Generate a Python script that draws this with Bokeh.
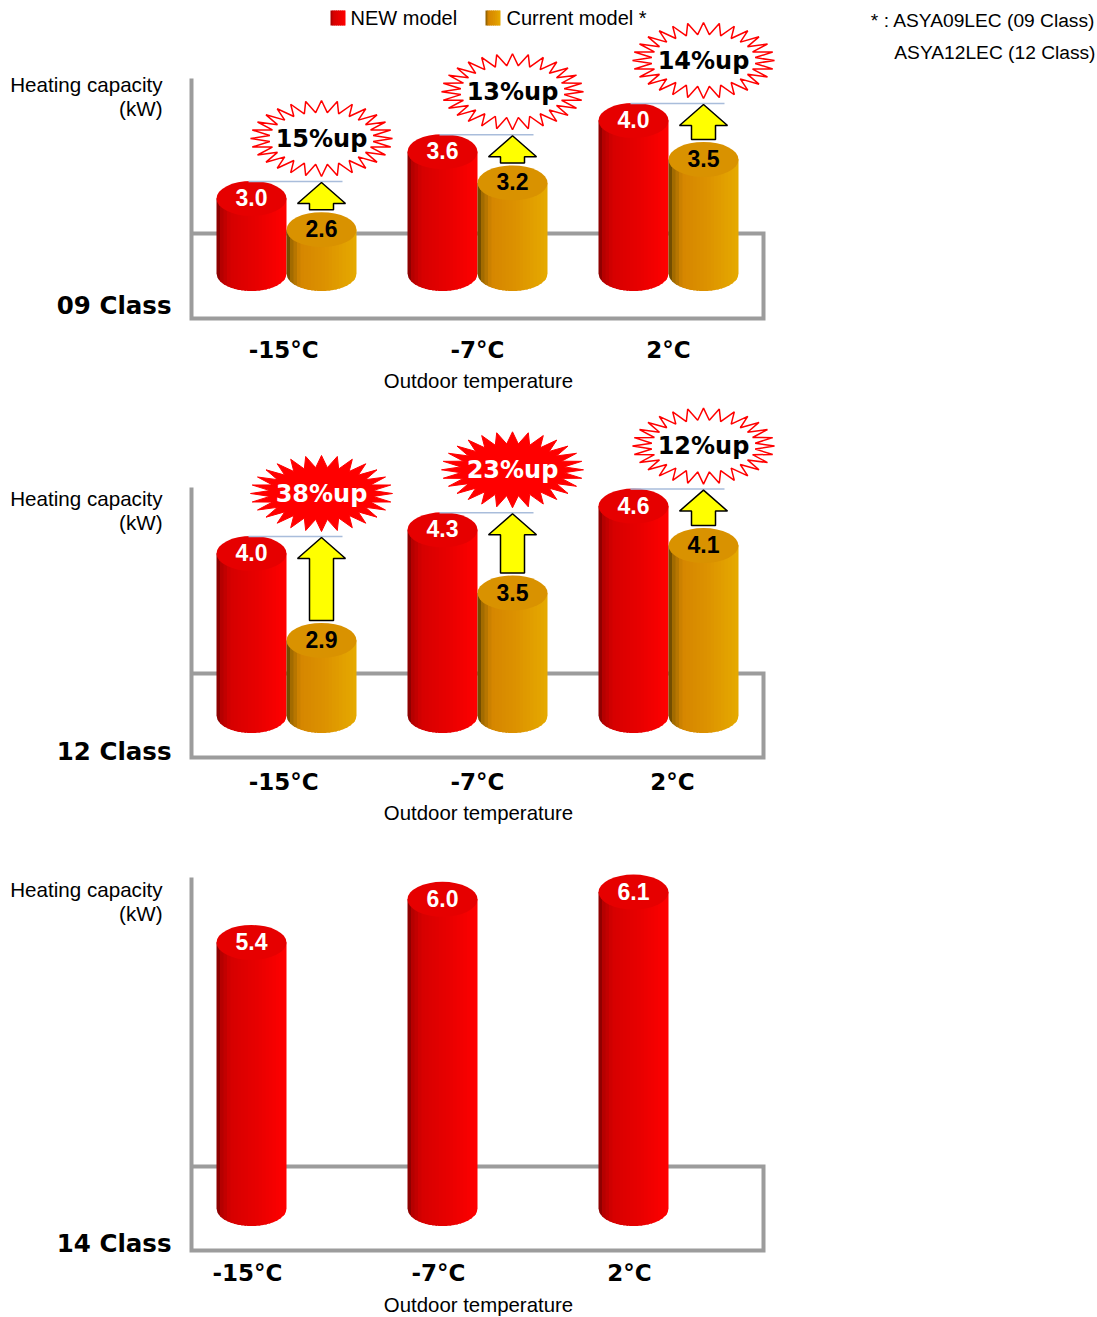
import numpy as np
from bokeh.plotting import figure
from bokeh.layouts import column
from bokeh.models import Range1d
from bokeh.core.properties import value
from bokeh.embed import file_html
from bokeh.resources import INLINE

# ---------------- data ----------------
temps = ["-15°C", "-7°C", "2°C"]
new_09 = [3.0, 3.6, 4.0]
cur_09 = [2.6, 3.2, 3.5]
up_09 = ["15%up", "13%up", "14%up"]
new_12 = [4.0, 4.3, 4.6]
cur_12 = [2.9, 3.5, 4.1]
up_12 = ["38%up", "23%up", "12%up"]
burst_filled_12 = [True, True, False]
new_14 = [5.4, 6.0, 6.1]

# ---------------- layout helpers ----------------
W = 1097
XC = 286.0   # pixel x of the first group centre
XS = 191.0   # pixels per group


def X(px):
    return (px - XC) / XS


R = 35 / XS        # cylinder radius (x data units)
OFF = 35 / XS      # offset of each cylinder from group centre

RED_STOPS = [(0, "#7a0000"), (0.07, "#b40000"), (0.2, "#d60000"), (0.55, "#e60000"), (1.0, "#ff0000")]
GOLD_STOPS = [(0, "#5a3f00"), (0.07, "#a06a00"), (0.2, "#d68600"), (0.55, "#dc9200"), (1.0, "#e6aa00")]
RED_TOP = "#e60000"
GOLD_TOP = "#d99200"


def hex2rgb(h):
    return tuple(int(h[i:i + 2], 16) for i in (1, 3, 5))


def grad(stops, t):
    for (t0, c0), (t1, c1) in zip(stops[:-1], stops[1:]):
        if t <= t1:
            f = (t - t0) / (t1 - t0) if t1 > t0 else 0
            a, b = hex2rgb(c0), hex2rgb(c1)
            return "#%02x%02x%02x" % tuple(int(round(a[j] + (b[j] - a[j]) * f)) for j in range(3))
    return stops[-1][1]


class Panel:
    def __init__(self, top, height, ppu, v0, g0):
        self.top, self.h, self.ppu = top, height, ppu
        self.ymax = v0 + (g0 - top) / ppu
        self.ymin = self.ymax - height / ppu
        p = figure(width=W, height=height, x_range=Range1d(X(0), X(W)),
                   y_range=Range1d(self.ymin, self.ymax), output_backend="svg",
                   toolbar_location=None, min_border=0,
                   x_axis_location=None, y_axis_location=None)
        p.grid.visible = False
        p.outline_line_color = None
        p.background_fill_color = "white"
        p.border_fill_color = "white"
        self.p = p

    def Y(self, g):
        return self.ymax - (g - self.top) / self.ppu

    def dy(self, px):
        return px / self.ppu


def txt(panel, x, y, s, size, color="black", font="Liberation Sans", bold=False, align="center"):
    panel.p.text(x=[x], y=[y], text=[s], text_align=align, text_baseline="middle",
                 text_font=value(font), text_font_style="bold" if bold else "normal",
                 text_font_size=size, text_color=color)


def box(panel, top_g, back_g, bot_g):
    xl, xr = X(191), X(763)
    Y = panel.Y
    panel.p.line([xl, xl, xr, xr, xl], [Y(top_g), Y(bot_g), Y(bot_g), Y(back_g), Y(back_g)],
                 line_color="#9c9c9c", line_width=4, line_join="miter")


def cylinder(panel, cx, val, base_g, kind, label):
    p = panel.p
    yb = panel.Y(base_g)
    h = panel.dy(17.5)
    stops = RED_STOPS if kind == "new" else GOLD_STOPS
    n = 20
    xs_l, ys_l, cols = [], [], []
    for i in range(n):
        xa = cx - R + 2 * R * i / n
        xb = min(cx - R + 2 * R * (i + 1) / n + 1.5 / XS, cx + R)
        sub = np.linspace(xb, xa, 6)
        ybot = yb - h * np.sqrt(np.clip(1 - ((sub - cx) / R) ** 2, 0, 1))
        xs_l.append([xa, xb] + list(sub))
        ys_l.append([val, val] + list(ybot))
        cols.append(grad(stops, (i + 0.5) / n))
    p.patches(xs_l, ys_l, fill_color=cols, line_color=None)
    p.ellipse(x=[cx], y=[val], width=2 * R, height=2 * h,
              fill_color=RED_TOP if kind == "new" else GOLD_TOP, line_color=None)
    txt(panel, cx, val + panel.dy(1), label, "23px",
        color="white" if kind == "new" else "black", bold=True)


def arrow(panel, cx, v_new, v_cur):
    tip = v_new + panel.dy(16)
    hb = tip - panel.dy(21)
    bot = v_cur + panel.dy(20)
    hw, sw = 24 / XS, 12 / XS
    xs = [cx, cx + hw, cx + sw, cx + sw, cx - sw, cx - sw, cx - hw]
    ys = [tip, hb, hb, bot, bot, hb, hb]
    panel.p.patch(xs, ys, fill_color="#ffff00", line_color="black", line_width=1.5)


def guide(panel, i, v_new):
    y = v_new + panel.dy(17)
    panel.p.line([i - OFF - 3 / XS, i + OFF + 21 / XS], [y, y], line_color="#a9bddb", line_width=1.5)


def burst(panel, cx, v_new, label, filled):
    cy = v_new + panel.dy(60)
    n = 28
    k = np.arange(2 * n + 1)
    ang = np.pi * k / n + np.pi / 2
    rx = np.where(k % 2 == 0, 71, 52) / XS
    ry = np.where(k % 2 == 0, 38, 26) / panel.ppu
    xs = cx + rx * np.cos(ang)
    ys = cy + ry * np.sin(ang)
    if filled:
        panel.p.patch(list(xs), list(ys), fill_color="#ff0000", line_color="#ff0000", line_width=1)
        col = "white"
    else:
        panel.p.patch(list(xs), list(ys), fill_color="white", line_color="#ff0000", line_width=1.5)
        col = "black"
    txt(panel, cx, cy, label, "24px", color=col, font="DejaVu Sans", bold=True)


def side_labels(panel, hc_g, cls_g, cls):
    txt(panel, X(162), panel.Y(hc_g), "Heating capacity", "20.6px", align="right")
    txt(panel, X(162), panel.Y(hc_g + 24), "(kW)", "20.6px", align="right")
    txt(panel, X(171), panel.Y(cls_g), cls, "24.5px", font="DejaVu Sans", bold=True, align="right")


def bottom_labels(panel, xs, lab_g, out_g):
    for x, t in zip(xs, temps):
        txt(panel, x, panel.Y(lab_g), t, "23px", font="DejaVu Sans", bold=True)
    txt(panel, X(478), panel.Y(out_g), "Outdoor temperature", "20.4px")


def legend_box(panel, x0px, stops):
    n = 8
    for k in range(n):
        x0 = X(x0px + 15 * k / n)
        x1 = X(min(x0px + 15 * (k + 1) / n + 1, x0px + 15))
        panel.p.quad(left=x0, right=x1, bottom=panel.Y(25), top=panel.Y(10),
                     fill_color=grad(stops, (k + 0.5) / n), line_color=None)


# ---------------- panel 1 : 09 Class ----------------
P1 = Panel(top=0, height=400, ppu=78, v0=3.0, g0=198)
box(P1, 78, 233, 318)
for i in range(3):
    cylinder(P1, i - OFF, new_09[i], 273, "new", f"{new_09[i]:.1f}")
    cylinder(P1, i + OFF, cur_09[i], 273, "cur", f"{cur_09[i]:.1f}")
    guide(P1, i, new_09[i])
    arrow(P1, i + OFF, new_09[i], cur_09[i])
    burst(P1, i + OFF, new_09[i], up_09[i], False)
side_labels(P1, 84, 305, "09 Class")
bottom_labels(P1, [-0.015, 1.0, 2.0], 349, 380)

# legend + footnote
legend_box(P1, 330, RED_STOPS)
legend_box(P1, 485, GOLD_STOPS)
txt(P1, X(350), P1.Y(17), "NEW model", "20px", align="left")
txt(P1, X(506), P1.Y(17), "Current model *", "20px", align="left")
txt(P1, X(1095), P1.Y(20), "* : ASYA09LEC (09 Class)", "19.2px", align="right")
txt(P1, X(1095), P1.Y(52), "ASYA12LEC (12 Class)", "19.2px", align="right")

# ---------------- panel 2 : 12 Class ----------------
P2 = Panel(top=400, height=430, ppu=79, v0=4.0, g0=553)
box(P2, 487, 673, 757)
for i in range(3):
    cylinder(P2, i - OFF, new_12[i], 715, "new", f"{new_12[i]:.1f}")
    cylinder(P2, i + OFF, cur_12[i], 715, "cur", f"{cur_12[i]:.1f}")
    guide(P2, i, new_12[i])
    arrow(P2, i + OFF, new_12[i], cur_12[i])
    burst(P2, i + OFF, new_12[i], up_12[i], burst_filled_12[i])
side_labels(P2, 498, 751, "12 Class")
bottom_labels(P2, [-0.015, 1.0, 2.02], 781, 812)

# ---------------- panel 3 : 14 Class ----------------
P3 = Panel(top=830, height=487, ppu=72, v0=5.4, g0=942)
box(P3, 877, 1166, 1250)
for i in range(3):
    cylinder(P3, i - OFF, new_14[i], 1208, "new", f"{new_14[i]:.1f}")
side_labels(P3, 889, 1243, "14 Class")
bottom_labels(P3, [i - OFF - 4 / XS for i in range(3)], 1272, 1304)

layout = column(P1.p, P2.p, P3.p, spacing=0)
open("out.html", "w").write(file_html(layout, INLINE, title="Heating capacity"))
